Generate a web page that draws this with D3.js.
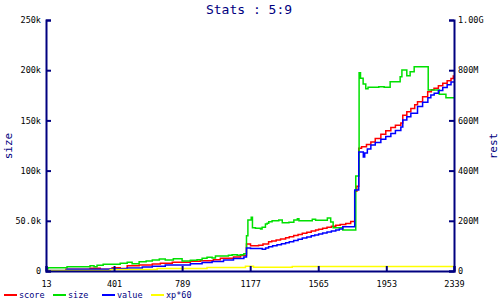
<!DOCTYPE html>
<html>
<head>
<meta charset="utf-8">
<script src="https://cdn.jsdelivr.net/npm/d3@7"></script>
<style>
  body { margin: 0; background: #fff; }
  text { font-family: "DejaVu Sans Mono", monospace; }
</style>
</head>
<body>
<div id="chart"></div>
<script>
// Stats : 5:9  -- step lines, size on left axis (k), the rest on right axis (M)

var xTicks = [13, 401, 789, 1177, 1565, 1953, 2339];
var leftTicks = [0, 50, 100, 150, 200, 250];     // k
var rightTicks = [0, 200, 400, 600, 800, 1000];  // M

// score (M)
var scoreX = [122, 264, 322, 390, 436, 476, 544, 619, 665, 733, 836, 893, 967, 1007, 1082, 1122,
  1156, 1179, 1225, 1250, 1282, 1300, 1325, 1350, 1379, 1400, 1425, 1450, 1474, 1500, 1525,
  1550, 1567, 1590, 1615, 1640, 1665, 1690, 1722, 1750, 1773, 1785, 1796, 1812, 1840, 1865,
  1890, 1922, 1950, 1979, 2005, 2036, 2047, 2070, 2093, 2115, 2131, 2160, 2189, 2210, 2225,
  2250, 2275, 2300, 2322, 2335];
var scoreY = [6.8, 10.8, 6.8, 13.3, 10, 20.5, 23.9, 27.9, 30.5, 34.5, 38.6, 41, 45.2, 50.8, 55.8, 62,
  107.6, 101, 102.4, 108, 116.7, 119.5, 123.5, 127.5, 132.6, 136.5, 141, 145.5, 150, 154.5, 159,
  163, 166, 170, 174, 178, 182, 185, 189.6, 197, 318, 338, 489, 495, 504, 514,
  528, 545, 559, 572, 581, 590, 621, 634, 647, 662, 674, 694, 714, 722, 728,
  738, 748, 758, 767, 777];

// size (k)
var sizeX = [13, 24, 133, 264, 287, 304, 339, 436, 476, 504, 544, 584, 619, 659, 693, 739, 789,
  836, 874, 903, 931, 960, 979, 1053, 1074, 1103, 1122, 1141, 1156, 1164, 1183, 1190, 1207,
  1236, 1245, 1264, 1274, 1283, 1302, 1340, 1360, 1398, 1426, 1446, 1455, 1531, 1550, 1617,
  1636, 1650, 1705, 1779, 1798, 1806, 1821, 1836, 1849, 1910, 1941, 1975, 2032, 2042, 2070,
  2089, 2112, 2192, 2255, 2293];
var sizeY = [2, 3.3, 4.3, 5.3, 4.3, 5.7, 6.7, 7.7, 8.7, 7.3, 9.3, 10, 11, 12, 11, 12.3, 10,
  10.7, 11.3, 12.7, 13.7, 13, 15, 15.6, 16.2, 15.6, 16.2, 17.2, 35.2, 50.8, 53.5, 43, 42.5,
  41.8, 43.5, 46.8, 47.5, 49.1, 50.1, 50.8, 48.1, 48.5, 50.8, 52.1, 50.1, 51.5, 50.5, 52.8,
  48.8, 43, 40.8, 94.6, 197.5, 191.9, 186.3, 181.6, 183, 183.6, 183, 188.5, 193.5, 200.2, 194.5,
  198.5, 203.5, 180.3, 176, 172.6];

// value (M)
var valueX = [13, 133, 379, 476, 562, 619, 693, 836, 903, 960, 1025, 1082, 1141, 1156, 1179,
  1246, 1265, 1282, 1305, 1330, 1355, 1379, 1400, 1425, 1450, 1474, 1500, 1525, 1545, 1567,
  1590, 1615, 1640, 1665, 1685, 1705, 1773, 1796, 1822, 1830, 1845, 1865, 1890, 1922, 1950,
  1979, 2005, 2036, 2047, 2070, 2093, 2131, 2160, 2190, 2207, 2226, 2250, 2275, 2300, 2322];
var valueY = [2, 6.8, 9.2, 12, 16, 18.7, 23.9, 29.2, 33.5, 37.5, 43.8, 49.4, 56, 92, 90,
  86.6, 92, 96.9, 100.5, 105, 109, 113, 117, 122, 126.5, 131, 135.5, 140, 143.5, 147,
  151, 155, 159, 163, 167, 176, 323, 474, 454, 470, 486, 502, 512, 525, 536,
  548, 560, 574, 602, 615, 628, 655, 672, 690, 701, 708, 719, 731, 742, 753];

// xp*60 (M)
var xpX = [13, 379, 647, 931, 1150, 1196, 1417];
var xpY = [2, 6, 10, 14, 19, 15, 18];

var width = 500, height = 300;
var margin = {top: 20, right: 46, bottom: 29, left: 46};
var xMax = 2339;

var svg = d3.select("#chart").append("svg")
    .attr("width", width)
    .attr("height", height);

var x = d3.scaleLinear().domain([13, xMax]).range([margin.left, width - margin.right]);
var yLeft = d3.scaleLinear().domain([0, 250]).range([height - margin.bottom, margin.top]);
var yRight = d3.scaleLinear().domain([0, 1000]).range([height - margin.bottom, margin.top]);

var navy = "#000080";

function fmt(unit) {
  return function(d) { return d === 0 ? "0" : d3.format(".3s")(d * unit); };
}

// series
var series = [
  {name: "score", color: "#ff0000", xs: scoreX, ys: scoreY, y: yRight},
  {name: "size", color: "#00e000", xs: sizeX, ys: sizeY, y: yLeft},
  {name: "value", color: "#0000ff", xs: valueX, ys: valueY, y: yRight},
  {name: "xp*60", color: "#ffff00", xs: xpX, ys: xpY, y: yRight}
];

series.forEach(function(s) {
  var pts = s.xs.map(function(v, i) { return [v, s.ys[i]]; });
  pts.push([xMax, s.ys[s.ys.length - 1]]);
  var line = d3.line()
      .x(function(d) { return x(d[0]); })
      .y(function(d) { return s.y(d[1]); })
      .curve(d3.curveStepAfter);
  svg.append("path")
      .datum(pts)
      .attr("d", line)
      .attr("fill", "none")
      .attr("stroke", s.color)
      .attr("stroke-width", 1.5);
});

// axes
var axisB = svg.append("g")
    .attr("transform", "translate(0," + (height - margin.bottom) + ")")
    .call(d3.axisTop(x).tickValues(xTicks).tickSize(5).tickFormat(d3.format("d")));
var axisL = svg.append("g")
    .attr("transform", "translate(" + margin.left + ",0)")
    .call(d3.axisRight(yLeft).tickValues(leftTicks).tickSize(5).tickFormat(fmt(1e3)));
var axisR = svg.append("g")
    .attr("transform", "translate(" + (width - margin.right) + ",0)")
    .call(d3.axisLeft(yRight).tickValues(rightTicks).tickSize(5).tickFormat(fmt(1e6)));

[axisB, axisL, axisR].forEach(function(g) {
  g.select(".domain").attr("stroke", navy).attr("stroke-width", 2);
  g.selectAll(".tick line").attr("stroke", navy).attr("stroke-width", 2);
  g.selectAll(".tick text")
      .attr("fill", "#000")
      .style("font-family", "DejaVu Sans Mono")
      .style("font-size", "8.5px");
});
axisB.selectAll(".tick text").attr("y", 10).attr("dy", "0.71em");
axisL.selectAll(".tick text").attr("x", -5).attr("text-anchor", "end");
axisR.selectAll(".tick text").attr("x", 4).attr("text-anchor", "start");

// title
svg.append("text")
    .attr("x", 249).attr("y", 14)
    .attr("text-anchor", "middle")
    .attr("fill", navy)
    .style("font-size", "13px")
    .text("Stats : 5:9");

// axis titles
svg.append("text")
    .attr("transform", "translate(12,146) rotate(-90)")
    .attr("text-anchor", "middle")
    .attr("fill", navy)
    .style("font-size", "11px")
    .text("size");
svg.append("text")
    .attr("transform", "translate(497,146) rotate(-90)")
    .attr("text-anchor", "middle")
    .attr("fill", navy)
    .style("font-size", "11px")
    .text("rest");

// legend
var legend = svg.append("g").attr("transform", "translate(4,295)");
series.forEach(function(s, i) {
  var g = legend.append("g").attr("transform", "translate(" + (i * 49) + ",0)");
  g.append("line")
      .attr("x1", 0).attr("x2", 13)
      .attr("y1", 0).attr("y2", 0)
      .attr("stroke", s.color)
      .attr("stroke-width", 2);
  g.append("text")
      .attr("x", 15).attr("y", 3)
      .attr("fill", navy)
      .style("font-size", "8.5px")
      .text(s.name);
});
</script>
</body>
</html>
